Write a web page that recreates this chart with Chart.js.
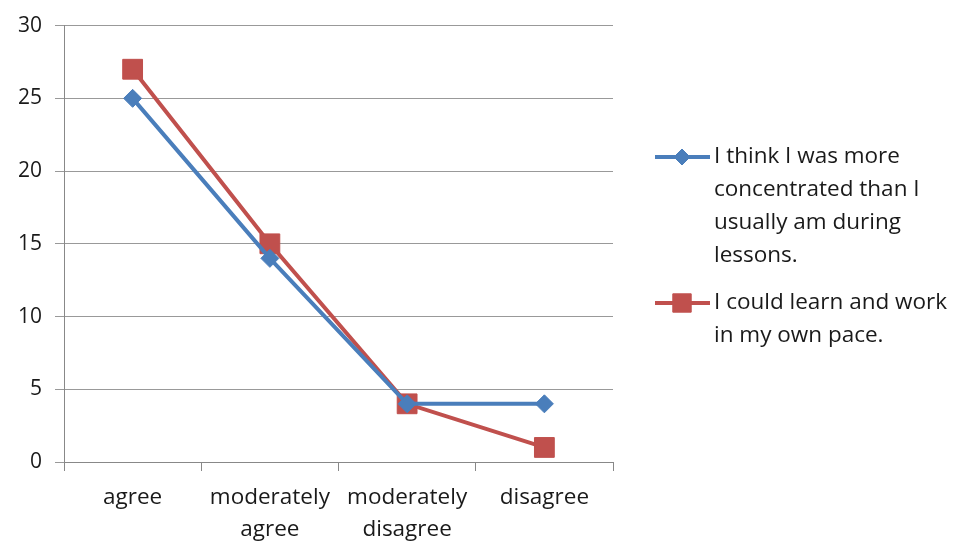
<!DOCTYPE html>
<html>
<head>
<meta charset="utf-8">
<script src="https://cdn.jsdelivr.net/npm/chart.js@4/dist/chart.umd.min.js"></script>
<style>
  html, body { margin: 0; padding: 0; background: #fff; }
  #wrap { width: 960px; height: 541px; }
</style>
</head>
<body>
<div id="wrap"><canvas id="myChart" width="960" height="541"></canvas></div>
<script>
const categories = [['agree'], ['moderately', 'agree'], ['moderately', 'disagree'], ['disagree']];
const seriesNames = ['I think I was more concentrated than I usually am during lessons.', 'I could learn and work in my own pace.'];
const concentrated = [25, 14, 4, 4];
const ownPace = [27, 15, 4, 1];

const FONT = '"Open Sans", "Noto Sans", sans-serif';
const blue = '#4a7ebb';
const red = '#c0504d';

// legend drawn by hand so the long labels can wrap like the original
const sideLegend = {
    id: 'sideLegend',
    afterDraw(chart) {
        const ctx = chart.ctx;
        const x0 = 655, textX = 714, maxW = 248, lineH = 33;
        let y = 157;
        ctx.save();
        ctx.font = '22.5px ' + FONT;
        ctx.textBaseline = 'middle';
        chart.data.datasets.forEach((ds, i) => {
            const words = ds.label.split(' ');
            let lines = [], cur = '';
            words.forEach(w => {
                const t = cur ? cur + ' ' + w : w;
                if (ctx.measureText(t).width > maxW && cur) { lines.push(cur); cur = w; } else { cur = t; }
            });
            lines.push(cur);

            ctx.strokeStyle = ds.borderColor;
            ctx.lineWidth = 4;
            ctx.beginPath();
            ctx.moveTo(x0, y);
            ctx.lineTo(x0 + 55, y);
            ctx.stroke();
            ctx.fillStyle = ds.borderColor;
            ctx.lineWidth = 1;
            Chart.helpers.drawPoint(ctx, {
                pointStyle: ds.pointStyle,
                radius: ds.pointStyle === 'rect' ? 13 : 8,
                borderWidth: 1
            }, x0 + 27, y);

            ctx.fillStyle = '#1a1a1a';
            lines.forEach((l, k) => ctx.fillText(l, textX, y + k * lineH));
            y += lines.length * lineH + 14;
        });
        ctx.restore();
    }
};

const ctx = document.getElementById('myChart').getContext('2d');
const myChart = new Chart(ctx, {
    type: 'line',
    data: {
        labels: categories,
        datasets: [{
            label: seriesNames[0],
            data: concentrated,
            borderColor: blue,
            backgroundColor: blue,
            borderWidth: 4,
            pointStyle: 'rectRot',
            pointRadius: 9,
            pointBorderWidth: 1,
            tension: 0
        }, {
            label: seriesNames[1],
            data: ownPace,
            borderColor: red,
            backgroundColor: red,
            borderWidth: 4,
            pointStyle: 'rect',
            pointRadius: 14,
            pointBorderWidth: 1,
            tension: 0
        }]
    },
    options: {
        responsive: false,
        animation: false,
        layout: { padding: { top: 22, right: 347, left: 0, bottom: 0 } },
        plugins: {
            legend: { display: false },
            tooltip: { enabled: false }
        },
        scales: {
            x: {
                offset: true,
                grid: { drawOnChartArea: false, drawTicks: true, tickLength: 9, color: '#888', offset: true },
                border: { color: '#888', width: 1 },
                ticks: { color: '#1a1a1a', font: { family: FONT, size: 22.5, lineHeight: 1.4 }, padding: 11, maxRotation: 0 },
                afterFit: s => { s.height = 79; }
            },
            y: {
                min: 0,
                max: 30,
                ticks: { stepSize: 5, color: '#1a1a1a', font: { family: FONT, size: 21 }, padding: 13 },
                grid: { color: '#999', tickLength: 9 },
                border: { color: '#888', width: 1 },
                afterFit: s => { s.width = 64; }
            }
        }
    },
    plugins: [sideLegend]
});
</script>
</body>
</html>
